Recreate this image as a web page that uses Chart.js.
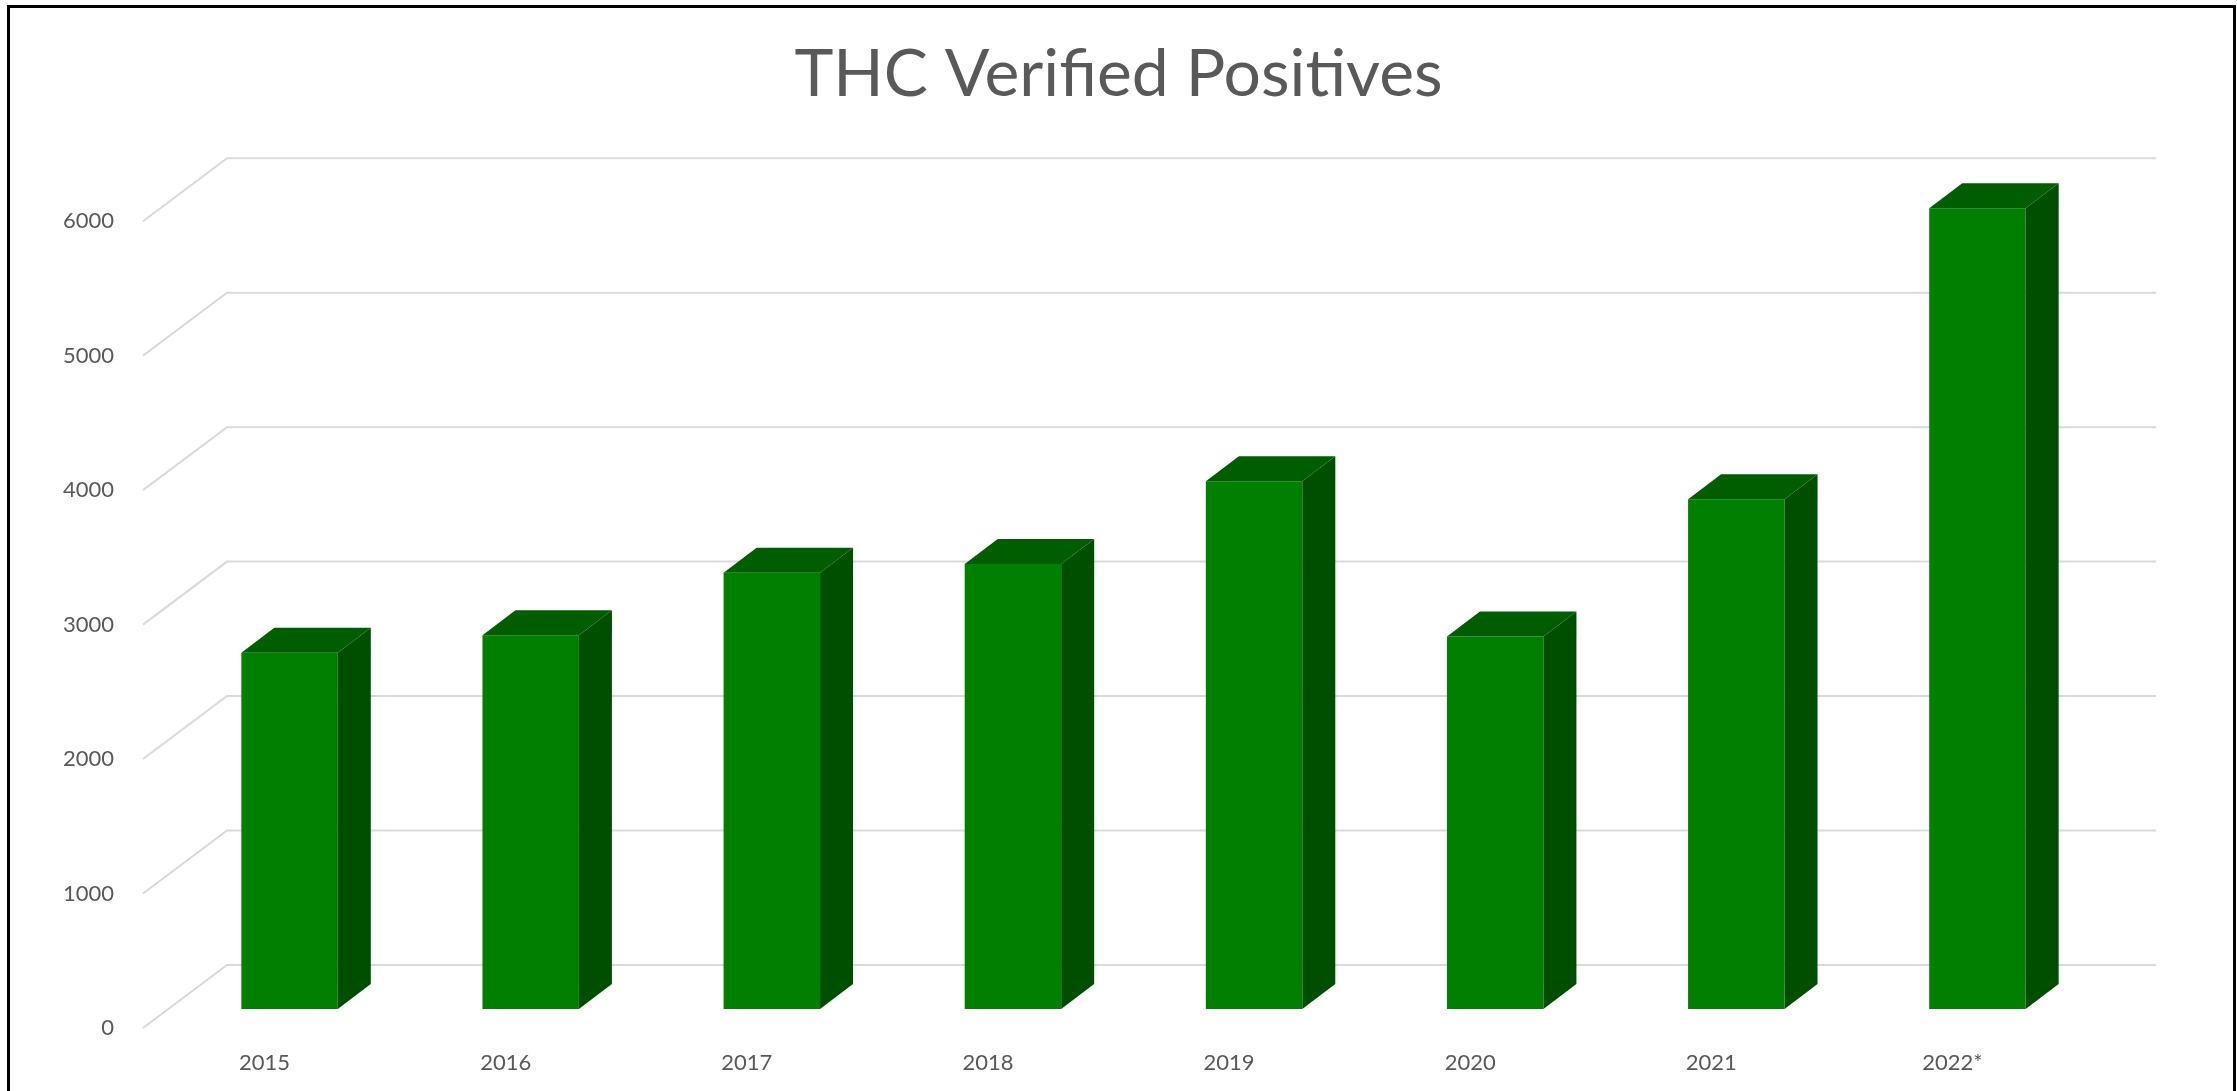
<!DOCTYPE html>
<html>
<head>
<meta charset="utf-8">
<title>THC Verified Positives</title>
<script src="https://cdn.jsdelivr.net/npm/chart.js@4/dist/chart.umd.min.js"></script>
<style>
    body { margin: 0; background: #fff; overflow: hidden; }
    #chart { position: absolute; left: 0; top: 0; }
    #frame {
        position: absolute; left: 7px; top: 5px;
        width: 2229px; height: 1200px;
        border: 3px solid #000; box-sizing: border-box;
        pointer-events: none;
    }
</style>
</head>
<body>
<canvas id="chart" width="2237" height="1091"></canvas>
<div id="frame"></div>
<script>
// data
const years = ['2015', '2016', '2017', '2018', '2019', '2020', '2021', '2022*'];
const positives = [2650, 2780, 3245, 3310, 3925, 2770, 3790, 5955];
const yTickValues = [0, 1000, 2000, 3000, 4000, 5000, 6000];

// fake-3D look (offsets in px)
const WALL_DX = 58, WALL_DY = 44;     // bar plane -> back wall
const FLOOR_DX = -26, FLOOR_DY = 19;  // bar plane -> front edge of floor
const BAR_DX = 33, BAR_DY = 25;       // bar depth

const greenFront = '#007f00';
const greenTop = '#005e00';
const greenSide = '#004f00';
const gridColor = '#d9d9d9';
const textColor = '#595959';

// gridlines on back wall + diagonals on the side wall
const wallGrid = {
    id: 'wallGrid',
    beforeDatasetsDraw(chart) {
        const ctx = chart.ctx;
        const area = chart.chartArea;
        const yScale = chart.scales.y;
        ctx.save();
        ctx.strokeStyle = gridColor;
        ctx.lineWidth = 2;
        yScale.ticks.forEach(t => {
            const y = yScale.getPixelForValue(t.value);
            ctx.beginPath();
            ctx.moveTo(area.left + FLOOR_DX, y + FLOOR_DY);
            ctx.lineTo(area.left + WALL_DX, y - WALL_DY);
            ctx.lineTo(area.right + WALL_DX, y - WALL_DY);
            ctx.stroke();
        });
        ctx.restore();
    }
};

// top and side faces of each bar
const barFaces = {
    id: 'barFaces',
    afterDatasetsDraw(chart) {
        const ctx = chart.ctx;
        const meta = chart.getDatasetMeta(0);
        ctx.save();
        meta.data.forEach(bar => {
            const p = bar.getProps(['x', 'y', 'base', 'width'], true);
            const l = p.x - p.width / 2;
            const r = p.x + p.width / 2;

            ctx.fillStyle = greenTop;
            ctx.beginPath();
            ctx.moveTo(l, p.y);
            ctx.lineTo(l + BAR_DX, p.y - BAR_DY);
            ctx.lineTo(r + BAR_DX, p.y - BAR_DY);
            ctx.lineTo(r, p.y);
            ctx.closePath();
            ctx.fill();

            ctx.fillStyle = greenSide;
            ctx.beginPath();
            ctx.moveTo(r, p.y);
            ctx.lineTo(r + BAR_DX, p.y - BAR_DY);
            ctx.lineTo(r + BAR_DX, p.base - BAR_DY);
            ctx.lineTo(r, p.base);
            ctx.closePath();
            ctx.fill();
        });
        ctx.restore();
    }
};

new Chart(document.getElementById('chart'), {
    type: 'bar',
    data: {
        labels: years,
        datasets: [{
            label: 'THC Verified Positives',
            data: positives,
            backgroundColor: greenFront,
            borderWidth: 0,
            barPercentage: 0.4,
            categoryPercentage: 1
        }]
    },
    options: {
        responsive: false,
        animation: false,
        layout: { padding: 0 },
        plugins: {
            legend: { display: false },
            tooltip: { enabled: false },
            title: {
                display: true,
                text: 'THC Verified Positives',
                color: textColor,
                font: { family: 'Lato', weight: 400, size: 66 },
                padding: { top: 35, bottom: 88 }
            }
        },
        scales: {
            x: {
                grid: { display: false },
                border: { display: false },
                ticks: {
                    color: textColor,
                    font: { family: 'Lato', size: 22 },
                    labelOffset: -25,
                    padding: 33,
                    maxRotation: 0
                },
                afterFit(s) { s.height = 82; }
            },
            y: {
                min: 0,
                max: 6000,
                grid: { display: false },
                border: { display: false },
                ticks: {
                    color: textColor,
                    font: { family: 'Lato', size: 22 },
                    labelOffset: 19,
                    padding: 47,
                    callback: v => String(v)
                },
                afterBuildTicks(s) { s.ticks = yTickValues.map(v => ({ value: v })); },
                afterFit(s) { s.width = 169; }
            },
            // empty right-hand gutter (room for the back wall)
            gutter: {
                position: 'right',
                grid: { display: false },
                border: { display: false },
                ticks: { display: false },
                afterFit(s) { s.width = 139; }
            }
        }
    },
    plugins: [wallGrid, barFaces]
});
</script>
</body>
</html>
